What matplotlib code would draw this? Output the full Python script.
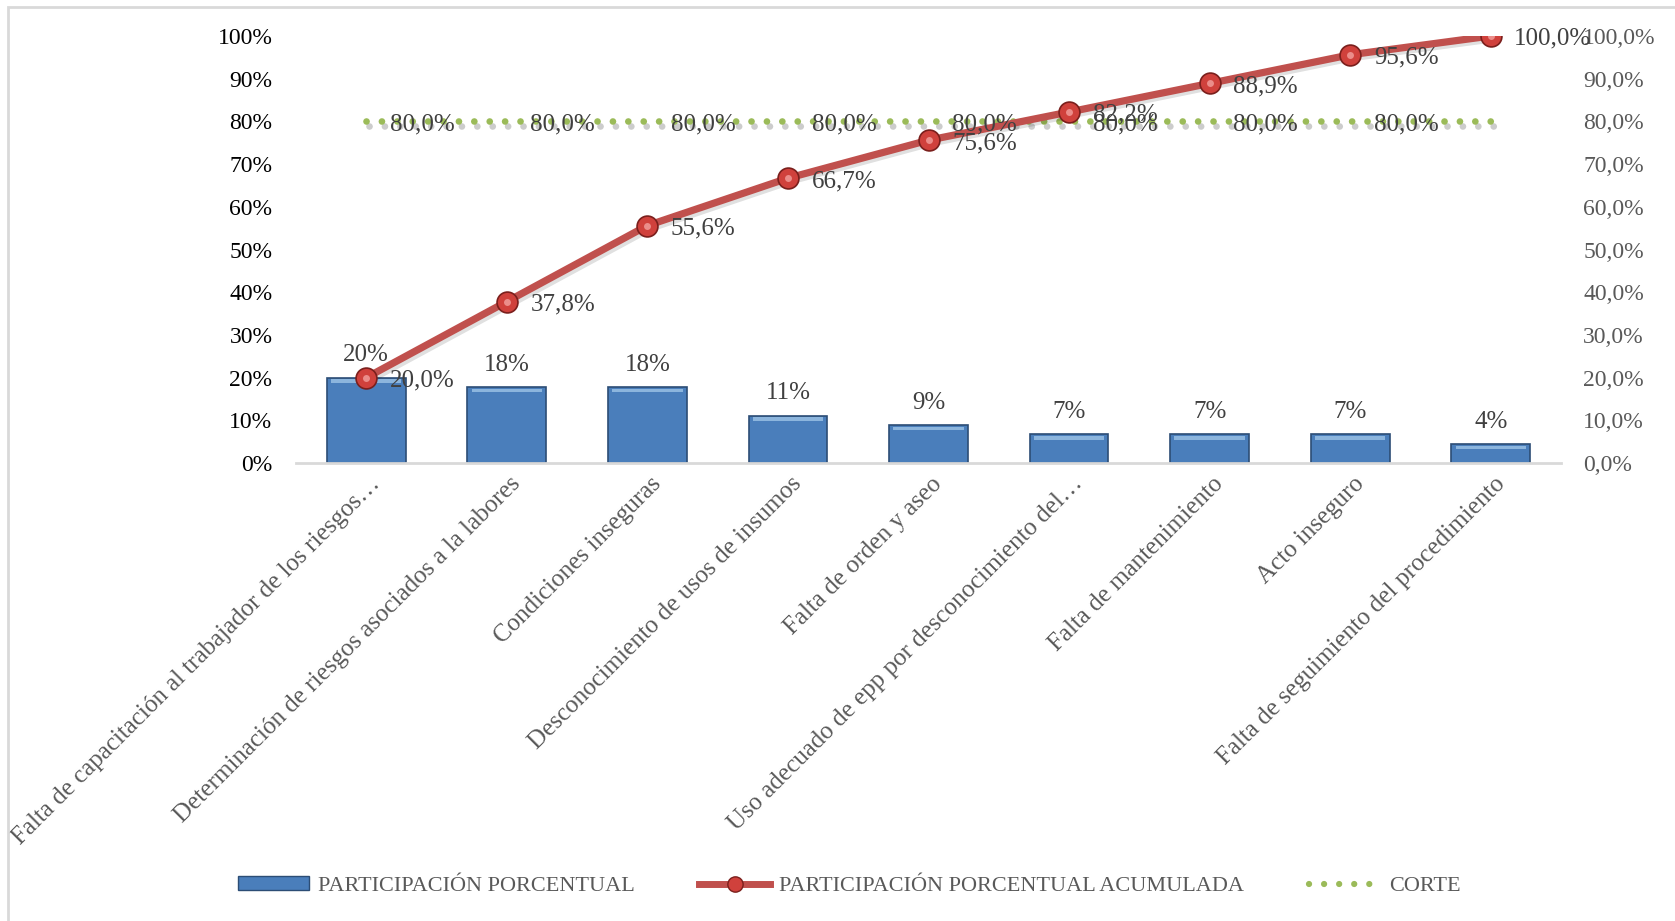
import matplotlib
matplotlib.use("Agg")
import matplotlib.pyplot as plt
import matplotlib.patheffects as pe
import matplotlib.transforms as mtransforms
from matplotlib.lines import Line2D
from matplotlib.patches import Patch, Rectangle
from matplotlib.ticker import FuncFormatter

plt.rcParams['font.family'] = ['Liberation Serif', 'DejaVu Serif']

categorias = [
    "Falta de capacitación al trabajador de los riesgos…",
    "Determinación de riesgos asociados a la labores",
    "Condiciones inseguras",
    "Desconocimiento de usos de insumos",
    "Falta de orden y aseo",
    "Uso adecuado de epp por desconocimiento del…",
    "Falta de mantenimiento",
    "Acto inseguro",
    "Falta de seguimiento del procedimiento",
]
participacion = [0.200, 0.178, 0.178, 0.111, 0.089, 0.067, 0.067, 0.067, 0.044]
acumulada = [0.200, 0.378, 0.556, 0.667, 0.756, 0.822, 0.889, 0.956, 1.000]
corte = [0.80] * 9

AZUL = "#4A7EBB"
ROJO = "#C0504D"
VERDE = "#9BBB59"
GRIS = "#595959"

fig = plt.figure(figsize=(16.75, 9.21), dpi=100)
# marco del grafico (solo se ven borde superior e izquierdo)
fig.add_artist(Rectangle((8 / 1675, -0.1), 1.2, 1.1 - 7 / 921, transform=fig.transFigure,
                         fill=False, edgecolor="#D9D9D9", linewidth=2))

ax = fig.add_axes([296 / 1675, 1 - 463 / 921, 1265 / 1675, 427 / 921])
ax2 = ax.twinx()

x = list(range(len(categorias)))
barras = ax.bar(x, participacion, width=0.56, color=AZUL, edgecolor="#2C4D75",
                linewidth=1.2, zorder=2)
for b in barras:
    # brillo superior tipo bisel
    ax.add_patch(Rectangle((b.get_x() + 0.03, b.get_height() - 0.012), b.get_width() - 0.06, 0.008,
                           color="#9DC3E6", alpha=0.8, zorder=3, linewidth=0))
for xi, v in zip(x, participacion):
    ax.annotate(f"{round(v * 100):.0f}%", (xi, v), xytext=(0, 8), textcoords="offset points",
                ha="center", va="bottom", fontsize=18, color="#404040")

sombra_v = [pe.SimpleLineShadow(offset=(2, -3), shadow_color="black", alpha=0.2), pe.Normal()]
sombra_r = [pe.SimpleLineShadow(offset=(2, -2), shadow_color="black", alpha=0.12), pe.Normal()]
ax2.plot(x, corte, linestyle=(0, (0.01, 2.3)), dash_capstyle="round", color=VERDE,
         linewidth=4.8, zorder=3, path_effects=sombra_v)
ax2.plot(x, acumulada, color=ROJO, linewidth=5.2, zorder=4, path_effects=sombra_r)
ax2.plot(x, acumulada, linestyle="none", marker="o", markersize=15, markerfacecolor="#D0413C",
         markeredgecolor="#7A1F1C", markeredgewidth=1.2, zorder=5)
ax2.plot(x, acumulada, linestyle="none", marker="o", markersize=5, markerfacecolor="#F2A19E",
         markeredgewidth=0, zorder=6, alpha=0.8)

def coma(v):
    return f"{v * 100:.1f}%".replace(".", ",")

# la serie de corte no lleva etiqueta en el ultimo punto
for xi, v in zip(x[:-1], corte[:-1]):
    ax2.annotate(coma(v), (xi, v), xytext=(17, -2), textcoords="offset points",
                 ha="left", va="center", fontsize=18, color="#404040", zorder=7)
for xi, v in zip(x, acumulada):
    ax2.annotate(coma(v), (xi, v), xytext=(17, -2), textcoords="offset points",
                 ha="left", va="center", fontsize=18, color="#404040", zorder=7)

for a in (ax, ax2):
    a.set_ylim(0, 1)
    a.set_xlim(-0.5, 8.5)
    for s in a.spines.values():
        s.set_visible(False)
ax.spines["bottom"].set_visible(True)
ax.spines["bottom"].set_color("#D9D9D9")
ax.spines["bottom"].set_linewidth(2)

ax.set_yticks([i / 10 for i in range(11)])
ax.yaxis.set_major_formatter(FuncFormatter(lambda v, p: f"{v * 100:.0f}%"))
ax.tick_params(axis="y", length=0, pad=17, labelsize=17, labelcolor="black")
ax2.set_yticks([i / 10 for i in range(11)])
ax2.yaxis.set_major_formatter(FuncFormatter(lambda v, p: coma(v)))
ax2.tick_params(axis="y", length=0, pad=16, labelsize=17, labelcolor=GRIS)

ax.set_xticks(x)
ax.set_xticklabels(categorias, rotation=45, ha="right", va="top", rotation_mode="anchor",
                   fontsize=18, color=GRIS)
ax.tick_params(axis="x", length=0, pad=7)
# desplazar un poco las etiquetas hacia la derecha
desp = mtransforms.ScaledTranslation(2 / 72, 0, fig.dpi_scale_trans)
for lbl in ax.get_xticklabels():
    lbl.set_transform(lbl.get_transform() + desp)

handles = [
    Patch(facecolor=AZUL, edgecolor="#2C4D75"),
    Line2D([], [], color=ROJO, linewidth=5, marker="o", markersize=11,
           markerfacecolor="#D0413C", markeredgecolor="#7A1F1C"),
    Line2D([], [], color=VERDE, linewidth=4.5, linestyle=(0, (0.01, 2.4)), dash_capstyle="round"),
]
etiquetas = ["PARTICIPACIÓN PORCENTUAL", "PARTICIPACIÓN PORCENTUAL ACUMULADA", "CORTE"]
fig.legend(handles, etiquetas, loc="center", bbox_to_anchor=(0.507, 1 - 886 / 921), ncol=3,
           frameon=False, fontsize=16, labelcolor=GRIS, handlelength=3.2, handletextpad=0.4,
           columnspacing=2.9, handleheight=0.6)

fig.savefig("out.png", dpi=100)
